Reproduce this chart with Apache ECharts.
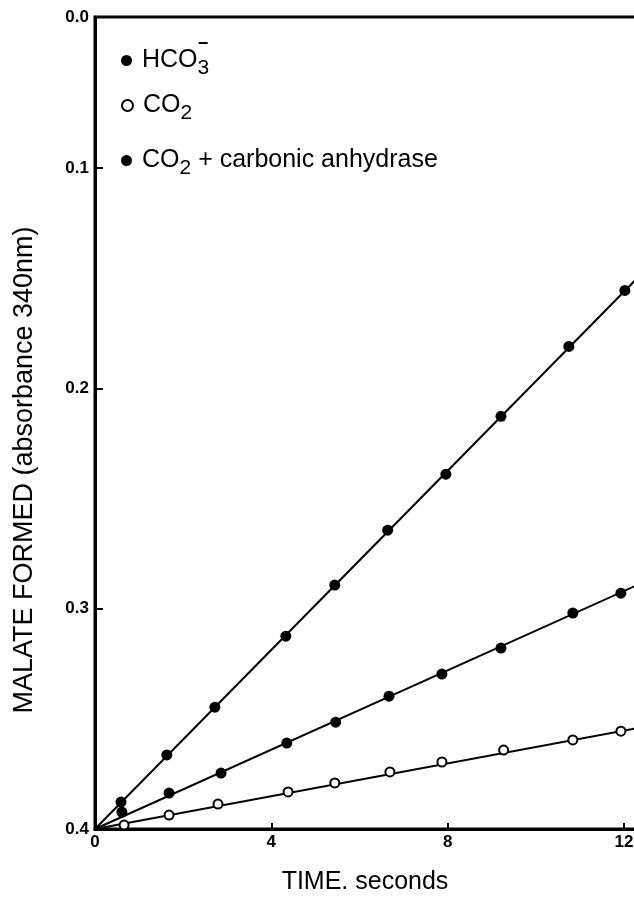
<!DOCTYPE html>
<html><head><meta charset="utf-8">
<script src="https://cdn.jsdelivr.net/npm/echarts@6/dist/echarts.min.js"></script>
<style>html,body{margin:0;padding:0;background:#fff}#c{width:634px;height:900px}</style>
</head><body><div id="c"></div>
<script>
// time (s) and absorbance readings
const hco3Time = [0.59, 1.63, 2.72, 4.33, 5.44, 6.64, 7.96, 9.21, 10.75, 12.02];
const hco3Abs  = [0.3878, 0.3664, 0.3447, 0.3125, 0.2893, 0.2644, 0.2390, 0.2127, 0.1810, 0.1556];
const co2Time  = [0.66, 1.68, 2.79, 4.38, 5.44, 6.69, 7.87, 9.27, 10.84, 11.93];
const co2Abs   = [0.3982, 0.3937, 0.3887, 0.3832, 0.3791, 0.3741, 0.3696, 0.3642, 0.3596, 0.3556];
const caTime   = [0.61, 1.68, 2.86, 4.35, 5.46, 6.67, 7.87, 9.21, 10.84, 11.93];
const caAbs    = [0.3923, 0.3837, 0.3746, 0.3610, 0.3515, 0.3397, 0.3297, 0.3179, 0.3020, 0.2930];
// fitted lines: start and end points
const hco3Fit = [[0, 0.4], [12.5, 0.146]];
const co2Fit  = [[0, 0.4], [12.5, 0.3535]];
const caFit   = [[0, 0.4], [12.5, 0.2875]];
const yTickValues = [0.0315, 0.1, 0.2, 0.3, 0.4];
const yTickMarks = [0.1, 0.2, 0.3];

const zip = (a, b) => a.map((v, i) => [v, b[i]]);
const chart = echarts.init(document.getElementById('c'));
const font = 'Liberation Sans, Arial, Helvetica, sans-serif';
const legendBase = {
  orient: 'vertical', icon: 'circle', itemWidth: 11, itemHeight: 11, itemGap: 0,
  selectedMode: false,
  textStyle: {
    fontFamily: font, fontSize: 25, color: '#000', padding: [0, 0, 0, 5],
    rich: {
      n: {fontFamily: font, fontSize: 25, color: '#000'},
      s: {fontFamily: font, fontSize: 21, color: '#000', padding: [16, 0, 0, 0]}
    }
  }
};
chart.setOption({
  animation: false,
  grid: {left: 95, top: 17, width: 551, bottom: 71, outerBoundsMode: 'none', show: true, borderColor: '#000', borderWidth: 3},
  xAxis: {
    type: 'value', min: 0, max: 12.5, interval: 4,
    axisLine: {lineStyle: {color: '#000', width: 3}},
    axisTick: {inside: true, length: 6, lineStyle: {color: '#000', width: 2}},
    axisLabel: {fontFamily: font, fontWeight: 'bold', fontSize: 17, color: '#000', margin: 5, showMaxLabel: false},
    splitLine: {show: false}
  },
  yAxis: {
    type: 'value', min: 0.0315, max: 0.4, inverse: true,
    axisLine: {lineStyle: {color: '#000', width: 3}},
    axisTick: {inside: true, length: 8, customValues: yTickMarks, lineStyle: {color: '#000', width: 2}},
    axisLabel: {
      fontFamily: font, fontWeight: 'bold', fontSize: 17, color: '#000', margin: 6,
      customValues: yTickValues,
      formatter: v => v < 0.05 ? '0.0' : v.toFixed(1)
    },
    splitLine: {show: false}
  },
  legend: [
    Object.assign({}, legendBase, {left: 116, top: 43, data: ['HCO3'],
      formatter: () => '{n|HCO}{s|3}'}),
    Object.assign({}, legendBase, {left: 116, top: 88, data: ['CO2'],
      formatter: () => '{n|CO}{s|2}'}),
    Object.assign({}, legendBase, {left: 116, top: 143, data: ['CO2 + carbonic anhydrase'],
      formatter: () => '{n|CO}{s|2}{n| + carbonic anhydrase}'})
  ],
  graphic: [
    {type: 'text', x: 203, y: 35, style: {text: '\u2212', font: 'bold 18px ' + font, fill: '#000', align: 'center'}},
    {type: 'text', x: 365, y: 870, style: {text: 'TIME. seconds', font: '25px ' + font, fill: '#000', align: 'center'}},
    {type: 'text', x: 11, y: 470, rotation: Math.PI / 2,
      style: {text: 'MALATE FORMED (absorbance 340nm)', font: '27px ' + font, fill: '#000', align: 'center', verticalAlign: 'top'}}
  ],
  series: [
    {type: 'line', data: hco3Fit, symbol: 'none', lineStyle: {color: '#000', width: 2}, silent: true, z: 1},
    {type: 'line', data: co2Fit, symbol: 'none', lineStyle: {color: '#000', width: 2}, silent: true, z: 1},
    {type: 'line', data: caFit, symbol: 'none', lineStyle: {color: '#000', width: 2}, silent: true, z: 1},
    {name: 'HCO3', type: 'scatter', data: zip(hco3Time, hco3Abs), symbolSize: 11,
      itemStyle: {color: '#000', opacity: 1}, z: 3},
    {name: 'CO2', type: 'scatter', data: zip(co2Time, co2Abs), symbolSize: 9,
      itemStyle: {color: '#fff', borderColor: '#000', borderWidth: 2, opacity: 1}, z: 3},
    {name: 'CO2 + carbonic anhydrase', type: 'scatter', data: zip(caTime, caAbs), symbolSize: 11,
      itemStyle: {color: '#000', opacity: 1}, z: 3}
  ]
});
</script></body></html>
